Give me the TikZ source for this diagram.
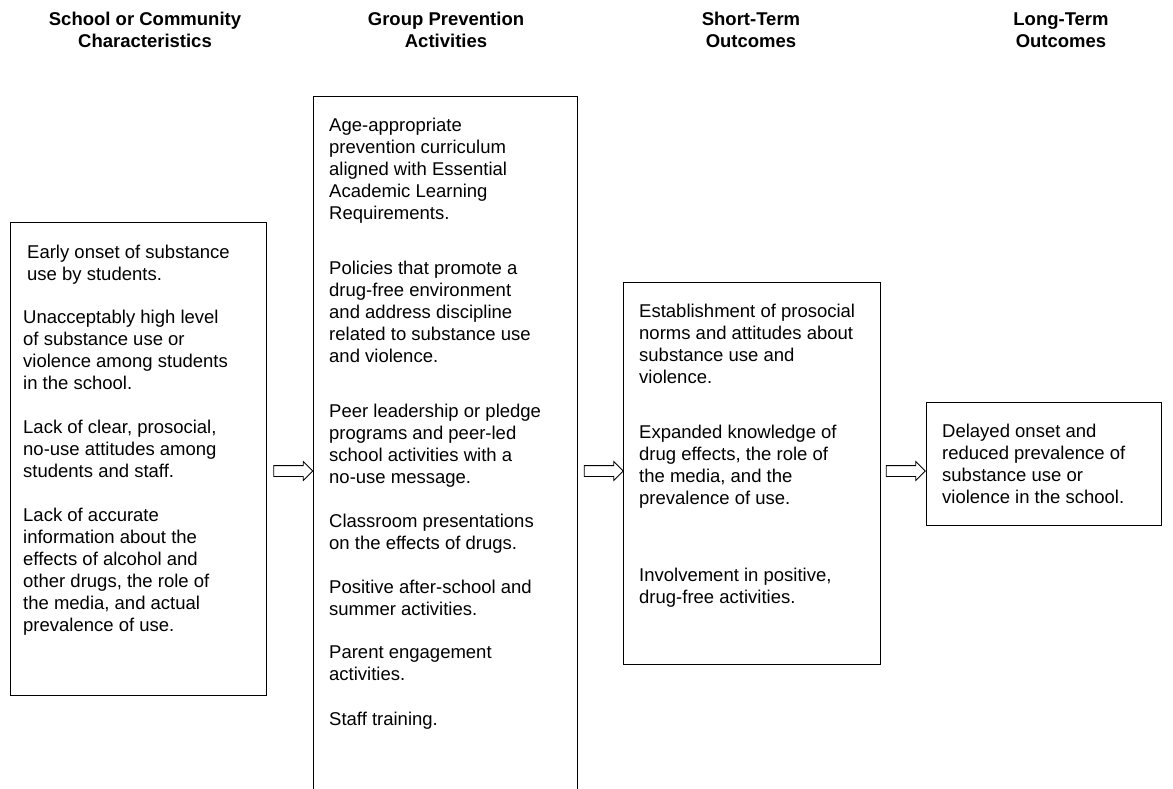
\documentclass[tikz,border=0pt]{standalone}
\usepackage{fontspec}
\setmainfont{Liberation Sans}
\usetikzlibrary{shapes.arrows}

\begin{document}
\begin{tikzpicture}[
    x=1pt, y=-1pt,
    head/.style = {anchor=north, align=center, inner sep=0pt, font=\fontsize{18.5}{22}\selectfont\bfseries},
    box/.style = {rectangle, draw, line width=0.9pt, anchor=north west, inner sep=0pt},
    para/.style = {anchor=north west, align=left, inner sep=0pt, font=\fontsize{18.5}{22}\selectfont},
    blockarrow/.style = {single arrow, draw, line width=0.8pt, inner xsep=0pt, inner ysep=5pt, minimum height=39pt, single arrow head extend=4pt, single arrow head indent=0pt}
]
    \clip (0,0) rectangle (1173,789);

    % column headings
    \node[head] (h_chars) at (145,12) {School or Community\\Characteristics};
    \node[head] (h_acts) at (446,12) {Group Prevention\\Activities};
    \node[head] (h_short) at (751,12) {Short-Term\\Outcomes};
    \node[head] (h_long) at (1061,12.8) {Long-Term\\Outcomes};

    % boxes
    \node[box, minimum width=256pt, minimum height=473pt] (chars) at (10,222) {};
    \node[box, minimum width=264pt, minimum height=720pt] (acts) at (313,96) {}; % runs off the page
    \node[box, minimum width=257pt, minimum height=382pt] (short) at (623,282) {};
    \node[box, minimum width=235pt, minimum height=123pt] (long) at (926,402) {};

    % school or community characteristics
    \node[para] (c_onset) at (27,245) {Early onset of substance\\use by students.};
    \node[para] (c_level) at (23,310) {Unacceptably high level\\of substance use or\\violence among students\\in the school.};
    \node[para] (c_norms) at (23,420) {Lack of clear, prosocial,\\no-use attitudes among\\students and staff.};
    \node[para] (c_info) at (23,508) {Lack of accurate\\information about the\\effects of alcohol and\\other drugs, the role of\\the media, and actual\\prevalence of use.};

    % group prevention activities
    \node[para] (a_curr) at (329,118) {Age-appropriate\\prevention curriculum\\aligned with Essential\\Academic Learning\\Requirements.};
    \node[para] (a_policy) at (329,261) {Policies that promote a\\drug-free environment\\and address discipline\\related to substance use\\and violence.};
    \node[para] (a_peer) at (329,404) {Peer leadership or pledge\\programs and peer-led\\school activities with a\\no-use message.};
    \node[para] (a_class) at (329,514) {Classroom presentations\\on the effects of drugs.};
    \node[para] (a_after) at (329,580) {Positive after-school and\\summer activities.};
    \node[para] (a_parent) at (329,646) {Parent engagement\\activities.};
    \node[para] (a_staff) at (329,712) {Staff training.};

    % short-term outcomes
    \node[para] (s_norms) at (639,304) {Establishment of prosocial\\norms and attitudes about\\substance use and\\violence.};
    \node[para] (s_know) at (639,425) {Expanded knowledge of\\drug effects, the role of\\the media, and the\\prevalence of use.};
    \node[para] (s_inv) at (639,568) {Involvement in positive,\\drug-free activities.};

    % long-term outcomes
    \node[para] (l_delay) at (942,424) {Delayed onset and\\reduced prevalence of\\substance use or\\violence in the school.};

    % hollow arrows between the columns
    \node[blockarrow] (ar1) at (290.5,471) {};
    \node[blockarrow] (ar2) at (601,471) {};
    \node[blockarrow] (ar3) at (903,471) {};
\end{tikzpicture}
\end{document}
